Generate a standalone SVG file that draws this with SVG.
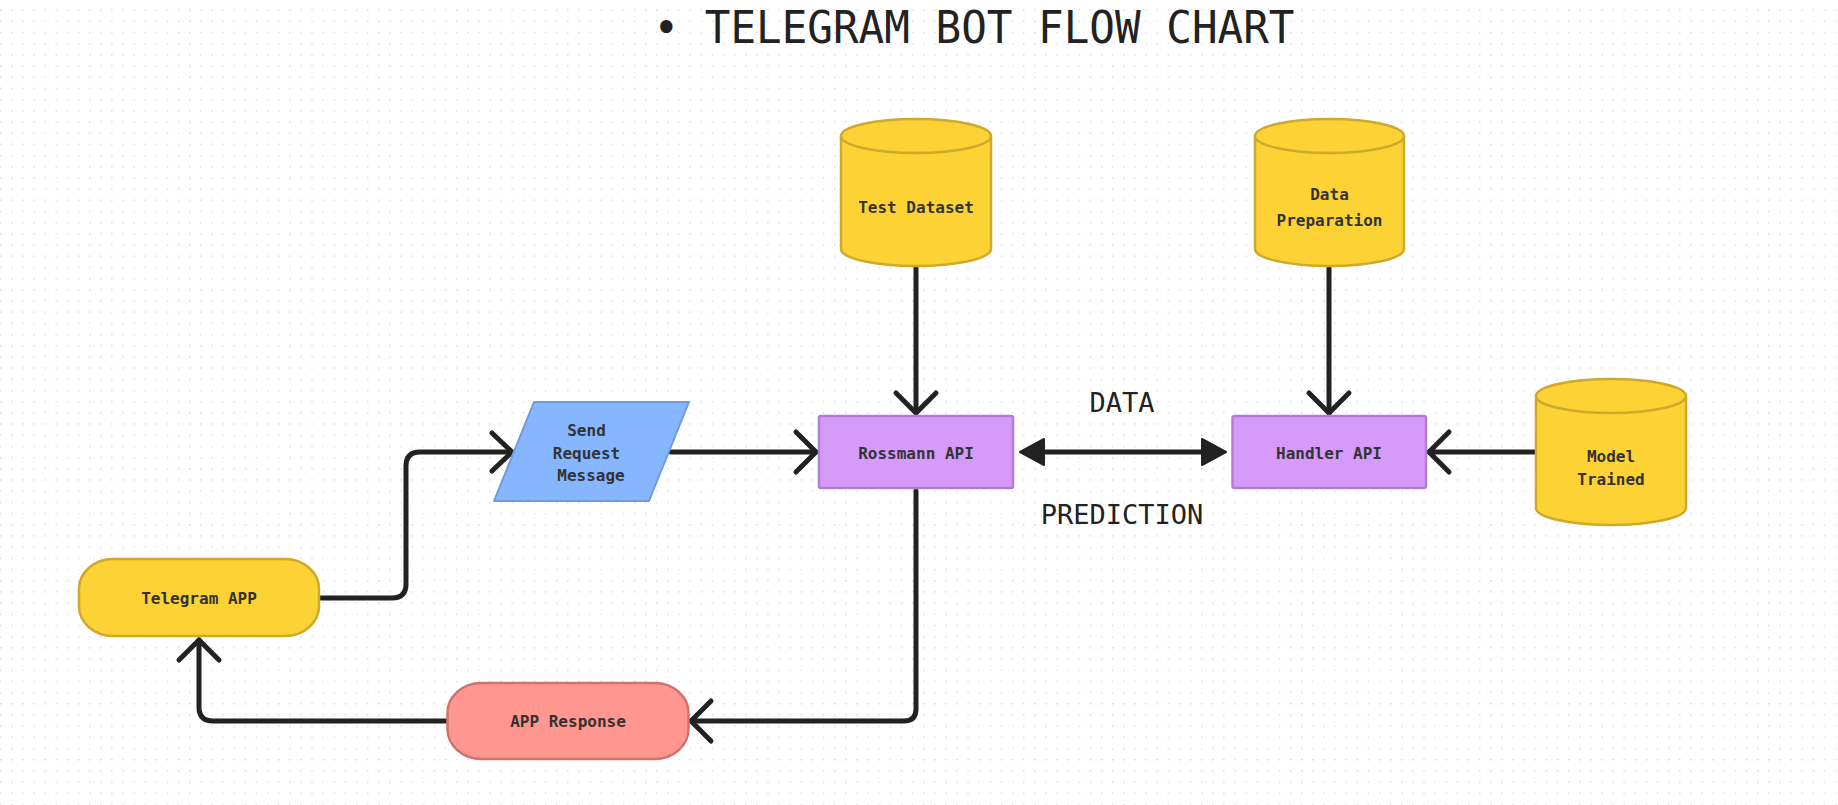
<svg xmlns="http://www.w3.org/2000/svg" width="1838" height="805" viewBox="0 0 1838 805">
  <defs>
    <pattern id="dots" x="0" y="9.3" width="11.12" height="11.19" patternUnits="userSpaceOnUse">
      <rect x="0" y="0" width="1.4" height="1.4" fill="#d8d8d8"/>
    </pattern>
    <style>
      .lbl { font-family: "DejaVu Sans Mono", "Liberation Mono", monospace; font-size: 16px; font-weight: bold; fill: #333333; text-anchor: middle; }
      .edge { font-family: "DejaVu Sans Mono", "Liberation Mono", monospace; font-size: 27px; fill: #222222; text-anchor: middle; }
      .title { font-family: "DejaVu Sans Mono", "Liberation Mono", monospace; font-size: 44px; fill: #222222; text-anchor: middle; }
      .db { fill: #FDD235; stroke: #CDA92C; stroke-width: 2.5; }
      .api { fill: #D69AFB; stroke: #B07ED2; stroke-width: 2.5; }
      .conn { fill: none; stroke: #222222; stroke-width: 5; stroke-linecap: round; stroke-linejoin: round; }
      .head { fill: #222222; stroke: #222222; stroke-width: 2; stroke-linejoin: round; }
    </style>
  </defs>
  <rect width="1838" height="805" fill="#ffffff"/>
  <rect width="1838" height="805" fill="url(#dots)"/>

  <text class="title" x="974" y="43" textLength="641" lengthAdjust="spacingAndGlyphs">• TELEGRAM BOT FLOW CHART</text>

  <g id="connectors">
    <path class="conn" d="M321,598 H392 Q406,598 406,584 V466 Q406,452 420,452 H512"/>
    <path class="conn" d="M492,433 L512,452 L492,471"/>
    <path class="conn" d="M671,452 H816"/>
    <path class="conn" d="M796,432 L816,452 L796,472"/>
    <path class="conn" d="M916,268 V413"/>
    <path class="conn" d="M896,393 L916,413 L936,393"/>
    <path class="conn" d="M1329,268 V413"/>
    <path class="conn" d="M1309,393 L1329,413 L1349,393"/>
    <path class="conn" d="M1535,452 H1429"/>
    <path class="conn" d="M1449,432 L1429,452 L1449,472"/>
    <path class="conn" d="M1040,452 H1206"/>
    <polygon class="head" points="1020,452 1044,439 1044,465"/>
    <polygon class="head" points="1226,452 1202,439 1202,465"/>
    <path class="conn" d="M916,491 V709 Q916,721 904,721 H691"/>
    <path class="conn" d="M711,701 L691,721 L711,741"/>
    <path class="conn" d="M446,721 H213 Q199,721 199,707 V640"/>
    <path class="conn" d="M179,660 L199,640 L219,660"/>
  </g>

  <text class="edge" x="1122" y="412">DATA</text>
  <text class="edge" x="1122" y="524">PREDICTION</text>

  <g id="node-test-dataset">
    <path class="db" d="M841,136 A75,17 0 0,1 991,136 L991,249 A75,17 0 0,1 841,249 Z"/>
    <path class="db" fill="none" d="M841,136 A75,17 0 0,0 991,136"/>
    <text class="lbl" x="916" y="213">Test Dataset</text>
  </g>

  <g id="node-data-preparation">
    <path class="db" d="M1255,136 A74.5,17 0 0,1 1404,136 L1404,249 A74.5,17 0 0,1 1255,249 Z"/>
    <path class="db" fill="none" d="M1255,136 A74.5,17 0 0,0 1404,136"/>
    <text class="lbl" x="1329.5" y="200">Data</text>
    <text class="lbl" x="1329.5" y="226">Preparation</text>
  </g>

  <g id="node-model-trained">
    <path class="db" d="M1536,396 A75,17 0 0,1 1686,396 L1686,508 A75,17 0 0,1 1536,508 Z"/>
    <path class="db" fill="none" d="M1536,396 A75,17 0 0,0 1686,396"/>
    <text class="lbl" x="1611" y="462">Model</text>
    <text class="lbl" x="1611" y="485">Trained</text>
  </g>

  <g id="node-rossmann-api">
    <rect class="api" x="819" y="416" width="194" height="72" rx="2"/>
    <text class="lbl" x="916" y="458.5">Rossmann API</text>
  </g>

  <g id="node-handler-api">
    <rect class="api" x="1232.5" y="416" width="193.5" height="72" rx="2"/>
    <text class="lbl" x="1329" y="458.5">Handler API</text>
  </g>

  <g id="node-send-request">
    <path d="M534,402 L689,402 L649,501 L494,501 Z" fill="#86B6FF" stroke="#6F9BDD" stroke-width="2" stroke-linejoin="round"/>
    <text class="lbl" x="586.5" y="436">Send</text>
    <text class="lbl" x="586.5" y="458.5">Request</text>
    <text class="lbl" x="591" y="481">Message</text>
  </g>

  <g id="node-telegram-app">
    <rect x="79" y="559" width="240" height="77" rx="34" ry="30" fill="#FDD235" stroke="#CDA92C" stroke-width="2.5"/>
    <text class="lbl" x="199" y="603.5">Telegram APP</text>
  </g>

  <g id="node-app-response">
    <rect x="447.5" y="683" width="241" height="76" rx="34" ry="30" fill="#FF968F" stroke="#D0736E" stroke-width="2.5"/>
    <text class="lbl" x="568" y="727">APP Response</text>
  </g>
</svg>
